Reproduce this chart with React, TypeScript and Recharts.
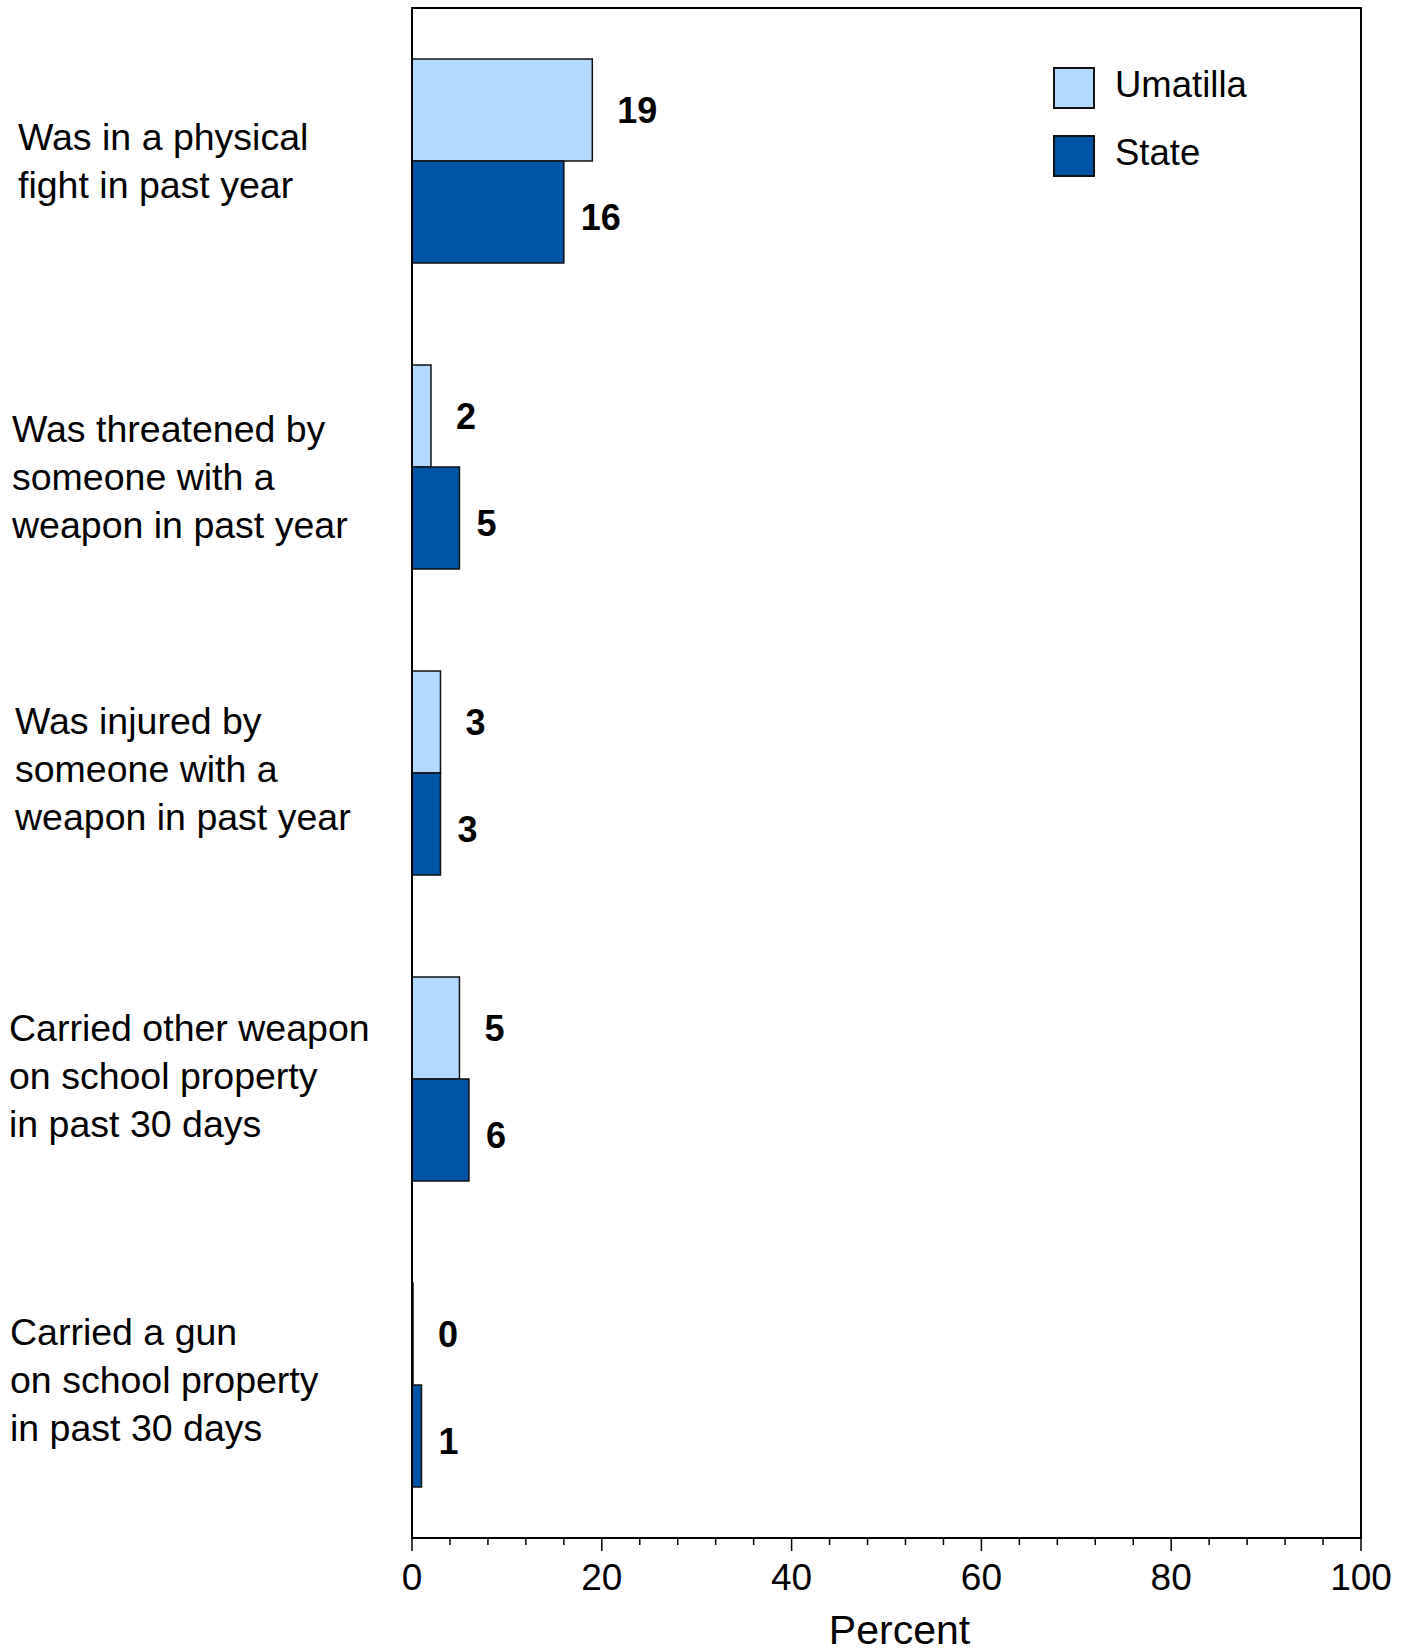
import React from 'react';
import { BarChart, Bar, XAxis, YAxis, LabelList, Legend, ReferenceArea, Label } from 'recharts';

const categories = [
  'Was in a physical\nfight in past year',
  'Was threatened by\nsomeone with a\nweapon in past year',
  'Was injured by\nsomeone with a\nweapon in past year',
  'Carried other weapon\non school property\nin past 30 days',
  'Carried a gun\non school property\nin past 30 days',
];
const umatilla = [19, 2, 3, 5, 0];
const state = [16, 5, 3, 6, 1];
const xTicks = [0, 4, 8, 12, 16, 20, 24, 28, 32, 36, 40, 44, 48, 52, 56, 60, 64, 68, 72, 76, 80, 84, 88, 92, 96, 100];
const seriesNames = ['Umatilla', 'State'];
const seriesColors = ['#B3D9FF', '#0054A6'];

// layout nudges for the hand-placed category labels (style only)
const labelLeft = [18, 12, 15, 9, 10];
const labelShift = [0, 10, -4, -3, -5];

const data = categories.map((c, i) => ({ label: c, umatilla: umatilla[i], state: state[i] }));

const FONT = '"Liberation Sans", Arial, Helvetica, sans-serif';

const XTick = (p: any) => {
  const { x, y, payload } = p;
  const major = payload.value % 20 === 0;
  return (
    <g>
      <line x1={x} x2={x} y1={y} y2={y + (major ? 13 : 7)} stroke="#000" strokeWidth={1.5} />
      {major && (
        <text x={x} y={y + 52} textAnchor="middle" fontSize={37} fontFamily={FONT} fill="#000">
          {payload.value}
        </text>
      )}
    </g>
  );
};

const YTick = (p: any) => {
  const { y, payload, index } = p;
  const i = typeof index === 'number' ? index : categories.indexOf(payload.value);
  const lines = String(payload.value).split('\n');
  const lh = 48;
  const lx = labelLeft[i] ?? 13;
  const first = y - ((lines.length - 1) * lh) / 2 + 13 + (labelShift[i] ?? 0);
  return (
    <text x={lx} y={first} textAnchor="start" fontSize={37.5} fontFamily={FONT} fill="#000">
      {lines.map((l, k) => (
        <tspan key={k} x={lx} y={first + k * lh}>
          {l}
        </tspan>
      ))}
    </text>
  );
};

const LegendContent = () => (
  <div style={{ display: 'flex', flexDirection: 'column', gap: 26, fontFamily: FONT }}>
    {seriesNames.map((n, i) => (
      <div key={n} style={{ display: 'flex', alignItems: 'center', height: 42 }}>
        <span
          style={{
            width: 42,
            height: 42,
            boxSizing: 'border-box',
            border: '2px solid #111',
            background: seriesColors[i],
            display: 'inline-block',
          }}
        />
        <span style={{ marginLeft: 20, fontSize: 36.5, lineHeight: '42px', position: 'relative', top: -3, color: '#000' }}>
          {n}
        </span>
      </div>
    ))}
  </div>
);

const PercentLabel = (p: any) => {
  const vb = p.viewBox || { x: 412, y: 1538, width: 949 };
  return (
    <text x={vb.x + vb.width / 2 + 13} y={vb.y + 106} textAnchor="middle" fontSize={41} fontFamily={FONT} fill="#000">
      Percent
    </text>
  );
};

export default function App() {
  return (
    <div style={{ position: 'absolute', left: 0, top: 0, background: '#fff' }}>
      <BarChart
        width={1413}
        height={1651}
        data={data}
        layout="vertical"
        margin={{ top: 8, right: 52, left: 0, bottom: 0 }}
        barCategoryGap="16.67%"
        barGap={0}
      >
        <XAxis
          type="number"
          domain={[0, 100]}
          ticks={xTicks}
          interval={0}
          height={113}
          tickLine={false}
          tickSize={0}
          tickMargin={0}
          tick={<XTick />}
          axisLine={{ stroke: '#000', strokeWidth: 2 }}
        >
          <Label content={<PercentLabel />} />
        </XAxis>
        <YAxis
          type="category"
          dataKey="label"
          width={412}
          tickLine={false}
          tick={<YTick />}
          axisLine={{ stroke: '#000', strokeWidth: 2 }}
        />
        <ReferenceArea x1={0} x2={100} fill="none" stroke="#000" strokeWidth={2} ifOverflow="visible" />
        <Legend
          layout="vertical"
          align="center"
          verticalAlign="middle"
          content={<LegendContent />}
          wrapperStyle={{ position: 'absolute', left: 1053, top: 67, width: 250, bottom: 'auto', right: 'auto' }}
        />
        <Bar
          dataKey="umatilla"
          name="Umatilla"
          fill={seriesColors[0]}
          stroke="#111"
          strokeWidth={1.5}
          minPointSize={1}
          isAnimationActive={false}
        >
          <LabelList dataKey="umatilla" position="right" offset={25} fill="#000" fontSize={36} fontWeight="bold" fontFamily={FONT} />
        </Bar>
        <Bar
          dataKey="state"
          name="State"
          fill={seriesColors[1]}
          stroke="#111"
          strokeWidth={1.5}
          minPointSize={1}
          isAnimationActive={false}
        >
          <LabelList dataKey="state" position="right" offset={17} dy={5} fill="#000" fontSize={36} fontWeight="bold" fontFamily={FONT} />
        </Bar>
      </BarChart>
    </div>
  );
}
